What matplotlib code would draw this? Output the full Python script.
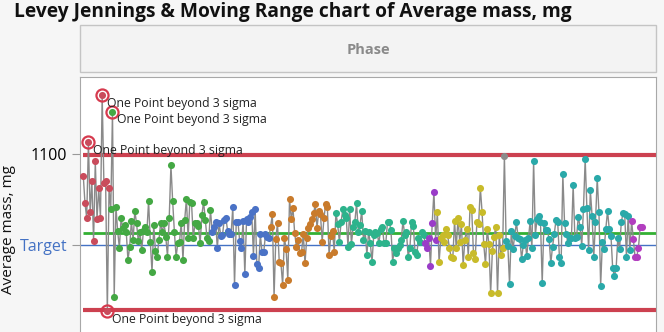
from matplotlib import pyplot as plt
from matplotlib.patches import Rectangle

# Average mass, mg per run, grouped by phase
red = [1088.1, 1072.9, 1065.0, 1106.4, 1067.9, 1085.2, 1052.2, 1096.1, 1064.3, 1081.1,
       1065.0, 1132.4, 1083.9, 1085.2, 1013.5, 1081.1]
green = [1069.8, 1123.3, 1021.6, 1071.1, 1057.7, 1048.5, 1064.6, 1059.5, 1061.0, 1057.3,
         1041.7, 1049.1, 1063.2, 1052.8, 1068.7, 1061.9, 1052.2, 1057.0, 1047.2, 1057.7,
         1060.1, 1057.0, 1074.2, 1051.8, 1035.0, 1061.0, 1046.7, 1043.6, 1052.8, 1061.9,
         1057.3, 1061.9, 1054.6, 1043.6, 1064.6, 1093.9, 1074.2, 1057.3, 1043.6, 1050.9,
         1051.8, 1062.3, 1041.7, 1063.7, 1075.3, 1053.7, 1073.8, 1072.9, 1053.7, 1061.9,
         1061.9, 1060.6, 1050.9, 1066.5, 1073.8, 1063.7, 1053.7, 1052.2, 1069.2]
blue = [1057.3, 1060.1, 1062.8, 1048.2, 1061.9, 1055.1, 1055.5, 1063.7, 1064.6, 1057.7,
        1055.8, 1055.8, 1071.1, 1028.0, 1062.8, 1062.8, 1052.2, 1048.5, 1063.2, 1033.9,
        1064.3, 1062.8, 1065.6, 1068.3, 1044.1, 1069.8, 1039.4, 1037.5, 1055.8, 1046.0,
        1046.0, 1055.8, 1054.6, 1054.0]
orange = [1060.1, 1066.8, 1021.6, 1053.3, 1061.9, 1040.8, 1039.9, 1028.0, 1054.0, 1047.8,
          1030.8, 1075.3, 1064.3, 1070.1, 1056.4, 1049.1, 1052.8, 1045.4, 1046.3, 1055.8,
          1039.9, 1053.7, 1059.2, 1061.3, 1064.3, 1067.4, 1072.3, 1059.5, 1068.7, 1066.8,
          1051.8, 1064.6, 1072.3, 1071.1, 1044.5, 1055.1, 1057.7, 1046.3]
teal = [1067.8, 1061.3, 1051.8, 1062.8, 1069.6, 1066.5, 1064.6, 1049.1, 1069.6, 1050.4,
        1060.1, 1062.8, 1072.9, 1057.3, 1061.0, 1068.7, 1052.8, 1057.7, 1044.5, 1057.3,
        1050.9, 1040.8, 1055.5, 1057.3, 1056.4, 1050.9, 1058.8, 1060.1, 1050.9, 1050.9,
        1062.8, 1062.8, 1058.2, 1040.8, 1048.2, 1045.4, 1048.2, 1050.0, 1052.8, 1063.2,
        1055.5, 1057.3, 1043.6, 1048.2, 1062.8, 1060.6, 1046.3, 1044.5, 1053.7, 1051.8,
        1057.3, 1055.5]
purple = [1050.9, 1048.2, 1053.7, 1038.6, 1061.9, 1079.3, 1052.8]
yellow = [1067.9, 1040.5, 1053.7, 1055.5, 1051.8, 1058.8, 1055.5, 1048.2, 1043.6, 1043.0,
          1063.2, 1048.2, 1065.0, 1051.8, 1061.3, 1039.0, 1052.8, 1058.8, 1043.6, 1071.1,
          1069.2, 1045.4, 1042.3, 1062.8, 1061.3, 1081.5, 1068.3, 1050.4, 1039.4, 1058.8,
          1050.4, 1023.4, 1046.7, 1054.6, 1060.1, 1023.4, 1055.5, 1044.5, 1048.5]
gray = [1099.1]
cyan = [1052.2, 1049.6, 1028.4, 1057.7, 1047.8, 1055.1, 1062.4, 1054.0, 1053.3, 1042.3,
        1050.0, 1052.8, 1044.1, 1053.7, 1063.2, 1048.2, 1096.1, 1055.5, 1064.3, 1066.1,
        1062.8, 1028.9, 1061.9, 1058.2, 1058.2, 1053.3, 1039.9, 1049.1, 1055.8, 1063.7,
        1062.8, 1043.6, 1039.9, 1088.8, 1061.9, 1055.8, 1050.9, 1054.0, 1053.7, 1083.0,
        1054.0, 1054.6, 1065.6, 1060.1, 1049.6, 1069.8, 1097.2, 1070.1, 1047.2, 1080.2,
        1066.1, 1043.6, 1062.8, 1086.6, 1068.3, 1027.6, 1051.5, 1047.8, 1058.8, 1068.7,
        1058.8, 1055.1, 1037.2, 1033.1, 1037.2, 1054.0, 1047.8, 1062.4, 1067.4, 1066.8,
        1043.6, 1066.1, 1047.2]
magenta = [1063.2, 1053.3, 1043.6, 1043.6, 1048.5, 1060.1, 1060.1]

groups = [(red, "#c94c5c"), (green, "#44a844"), (blue, "#4a72c6"), (orange, "#c97b2c"),
          (teal, "#2db38c"), (purple, "#9a3cc8"), (yellow, "#c8bb2a"), (gray, "#8c8c8c"),
          (cyan, "#2aa9a9"), (magenta, "#b23ebf")]

ucl, center, lcl, target = 1099.5, 1056.6, 1014.3, 1050.0
flagged = [3, 11, 17, 14]   # run indices flagged "One Point beyond 3 sigma"

values = [v for g, _ in groups for v in g]
runs = list(range(len(values)))

plt.rcParams['font.family'] = ['Open Sans', 'DejaVu Sans']
fig = plt.figure(figsize=(6.64, 3.32), dpi=100, facecolor="#f6f6f6")

fig.text(14 / 664, 1 - 12 / 332, "Levey Jennings & Moving Range chart of Average mass, mg",
         fontsize=13.8, fontweight="bold", va="center", ha="left", color="#111111")

# Phase header box
fig.patches.append(Rectangle((80 / 664, 1 - 72 / 332), 576 / 664, 47 / 332, transform=fig.transFigure,
                             facecolor="#f3f3f3", edgecolor="#c4c4c4", lw=1))
fig.text(368 / 664, 1 - 50 / 332, "Phase", fontsize=10.5, fontweight="bold", color="#8a8a8a",
         ha="center", va="center")

ax = fig.add_axes([80 / 664, 0, 576 / 664, 255 / 332])
ax.set_facecolor("white")
xmax = 333.2
ax.set_xlim(-1.9, xmax)
ax.set_ylim(1002.2, 1142.3)

ax.axhline(target, color="#4472c4", lw=1, zorder=1)
ax.hlines([ucl, lcl], -0.3, xmax, color="#cc4150", lw=3, zorder=2)
ax.hlines(center, -0.3, xmax, color="#33b033", lw=2, zorder=2)

ax.plot(runs, values, color="#8a8a8a", lw=1, zorder=3)
i = 0
for g, c in groups:
    ax.plot(range(i, i + len(g)), g, 'o', color=c, ms=5.1, mew=0, zorder=4)
    i += len(g)

for k in flagged:
    ax.plot(k, values[k], 'o', ms=8.7, mfc="none", mec="#d63a4e", mew=1.6, zorder=5)
    ax.annotate("One Point beyond 3 sigma", (k, values[k]), xytext=(3.5, -6),
                textcoords="offset points", fontsize=8.8, color="#222222",
                ha="left", va="center", zorder=6)

ax.set_yticks([target, 1100])
ax.set_yticklabels(["Target", "1100"], fontsize=11.5)
ax.get_yticklabels()[0].set_color("#4472c4")
ax.tick_params(axis="y", length=6, color="#999999", pad=3)
ax.set_xticks([])
for s in ["top", "left", "right"]:
    ax.spines[s].set_color("#a8a8a8")
ax.spines["bottom"].set_visible(False)

fig.text(9 / 664, 1 - 229 / 332, "Average mass, mg", rotation=90, fontsize=11,
         ha="center", va="center", color="#111111")

fig.savefig("out.png", dpi=100, facecolor=fig.get_facecolor())
